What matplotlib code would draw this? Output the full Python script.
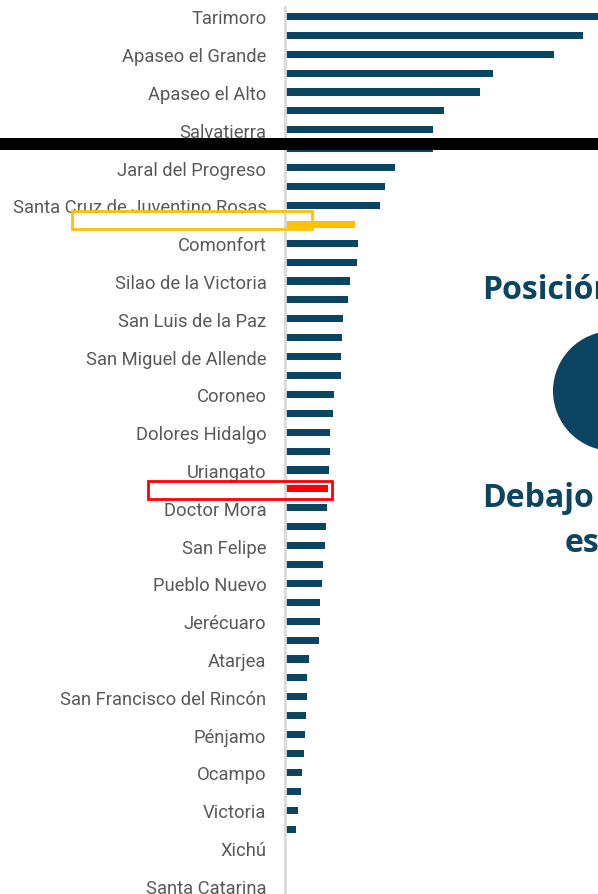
import matplotlib
matplotlib.use("Agg")
import matplotlib.pyplot as plt
from matplotlib.patches import Rectangle, Ellipse

# ---------------- data ----------------
labels = ["Tarimoro", "", "Apaseo el Grande", "", "Apaseo el Alto", "", "Salvatierra", "",
          "Jaral del Progreso", "", "Santa Cruz de Juventino Rosas", "", "Comonfort", "",
          "Silao de la Victoria", "", "San Luis de la Paz", "", "San Miguel de Allende", "",
          "Coroneo", "", "Dolores Hidalgo", "", "Uriangato", "", "Doctor Mora", "",
          "San Felipe", "", "Pueblo Nuevo", "", "Jerécuaro", "", "Atarjea", "",
          "San Francisco del Rincón", "", "Pénjamo", "", "Ocampo", "", "Victoria", "",
          "Xichú", "", "Santa Catarina"]
values = [330, 298.5, 269.5, 208.5, 195.5, 159, 148.5, 148.5, 110.7, 100.3, 95, 70,
          73.5, 72.7, 65, 63.6, 58, 57, 56.7, 56.7, 49.5, 48.3, 45.7, 45.7, 44, 43,
          42, 41.5, 40, 38, 37, 35.7, 35.7, 34.3, 24.7, 22.8, 22.8, 21.3, 20.2, 19.7,
          17.4, 16.3, 13.6, 11.5, 0, 0, 0]
highlight_state = 11   # yellow bar
highlight_muni = 25    # red bar

W, H = 598, 895
fig = plt.figure(figsize=(W / 100, H / 100), dpi=100)

def fx(x):
    return x / W

def fy(y):
    return 1 - y / H

n = len(values)
step = 18.9
top_px = 17.4 - step / 2
bot_px = top_px + n * step
left_px = 284.5
ax = fig.add_axes([fx(left_px), fy(bot_px), 1 - fx(left_px), fy(top_px) - fy(bot_px)])

blue = "#0A4662"
colors = [blue] * n
colors[highlight_state] = "#FFC000"
colors[highlight_muni] = "#FF0000"

ypos = list(range(n))
ax.barh(ypos, values, height=0.38, color=colors, zorder=2)
ax.set_ylim(n - 0.5, -0.5)
ax.set_xlim(0, W - left_px)
ax.set_yticks(ypos)
ax.set_yticklabels(labels, fontsize=13.2, color="#595959", family="Roboto")
ax.tick_params(axis="y", length=0, pad=13)
ax.set_xticks([])
for s in ["top", "right", "bottom"]:
    ax.spines[s].set_visible(False)
ax.spines["left"].set_color("#D9D9D9")
ax.spines["left"].set_linewidth(2)

# highlight boxes around the hidden labels
fig.add_artist(Rectangle((fx(72), fy(229.5)), fx(312) - fx(72), fy(212) - fy(229.5),
                         fill=False, edgecolor="#FFC000", linewidth=2,
                         transform=fig.transFigure, zorder=5))
fig.add_artist(Rectangle((fx(148), fy(499.5)), fx(332) - fx(148), fy(482) - fy(499.5),
                         fill=False, edgecolor="#FF0000", linewidth=2,
                         transform=fig.transFigure, zorder=5))

# black band across the slide
fig.add_artist(Rectangle((0, fy(151)), 1, fy(139) - fy(151), facecolor="black",
                         edgecolor="none", transform=fig.transFigure, zorder=6))

# right side slide elements (cut by the slide edge as in the reference)
dark = "#0B4561"
fig.text(fx(482), fy(299), "Posición", fontsize=23, fontweight="bold", color=dark,
         family="Open Sans", ha="left", va="baseline")
fig.text(fx(482), fy(507), "Debajo", fontsize=23, fontweight="bold", color=dark,
         family="Open Sans", ha="left", va="baseline")
fig.text(fx(565), fy(552), "es", fontsize=23, fontweight="bold", color=dark,
         family="Open Sans", ha="left", va="baseline")
fig.add_artist(Ellipse((fx(613), fy(392)), 120 / W, 120 / H, facecolor=dark,
                       edgecolor="none", transform=fig.transFigure))

fig.savefig("out.png", dpi=100)
